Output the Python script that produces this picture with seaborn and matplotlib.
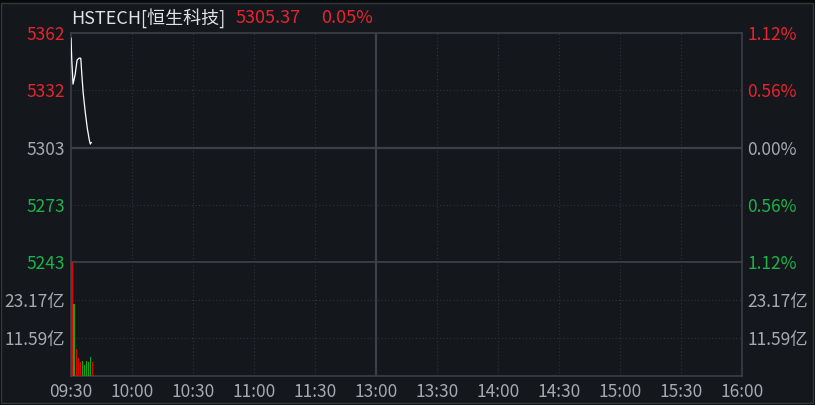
import matplotlib
matplotlib.use("Agg")
import matplotlib.pyplot as plt
from matplotlib.patches import Rectangle
import seaborn as sns

# intraday minutes since 09:30 (trading time, lunch break removed)
price_minutes = [0, 0.4, 1, 2, 3, 4, 4.8, 5.5, 6, 7, 8, 9, 9.5, 10]
prices = [5359.5, 5347.6, 5335.6, 5340.3, 5348.1, 5349.1, 5349.0, 5338.0,
          5331.0, 5321.1, 5312.8, 5306.6, 5304.5, 5305.37]

vol_minutes = [0, 1, 2, 3, 4, 5, 6, 7, 8, 9, 10]
volumes = [34.76, 21.95, 8.14, 5.4, 4.2, 4.6, 3.35, 4.6, 4.2, 5.7, 4.2]  # 亿
vol_dir = ["up", "down", "up", "up", "up", "down", "down", "down", "down", "down", "up"]

prev_close = 5302.72
last_price = 5305.37
last_pct = "0.05%"
pct_levels = [1.12, 0.56, 0.0, -0.56, -1.12]
price_labels = ["5362", "5332", "5303", "5273", "5243"]
pct_labels = ["1.12%", "0.56%", "0.00%", "0.56%", "1.12%"]
vol_ticks = [11.59, 23.17]
vol_labels = ["11.59亿", "23.17亿"]
vol_max = 34.76

time_ticks = [0, 30, 60, 90, 120, 150, 180, 210, 240, 270, 300, 330]
time_labels = ["09:30", "10:00", "10:30", "11:00", "11:30", "13:00",
               "13:30", "14:00", "14:30", "15:00", "15:30", "16:00"]

BG = "#14171c"
LINE = "#3c3f45"
GRID = "#3a3d43"
RED = "#e8242f"
GREEN = "#1cb34b"
GREY = "#a6aab0"
BAR_RED = "#e60000"
BAR_GREEN = "#0fa80f"
FS = 12.5
DOTS = (0.7, 2.4)

sns.set_theme(style="dark")
plt.rcParams["font.family"] = ["Noto Sans CJK SC", "DejaVu Sans"]
plt.rcParams["axes.unicode_minus"] = False

W, H = 815, 405
fig = plt.figure(figsize=(W / 100, H / 100), dpi=100)
fig.patch.set_facecolor("#08090b")
fig.patches.append(Rectangle((0.5 / W, 2.5 / H), 812.5 / W, 400 / H,
                             transform=fig.transFigure, facecolor=BG,
                             edgecolor="#34373c", linewidth=1, zorder=-5))

ax = fig.add_axes([71 / W, (H - 262) / H, 671 / W, 229 / H])
axv = fig.add_axes([71 / W, (H - 376) / H, 671 / W, 114 / H])

for a in (ax, axv):
    a.set_facecolor(BG)
    a.set_xlim(0, 330)
    for s in a.spines.values():
        s.set_color(LINE)
        s.set_linewidth(1.2)
    a.grid(False)
    for t in time_ticks[1:-1]:
        if t == 150:
            a.axvline(t, color=LINE, linewidth=1.6, zorder=1)
        else:
            a.axvline(t, color=GRID, linewidth=0.8, dashes=DOTS, zorder=1)

# price panel
lo = prev_close * (1 - 0.0112)
hi = prev_close * (1 + 0.0112)
ax.set_ylim(lo, hi)
levels = [prev_close * (1 + p / 100) for p in pct_levels]
for p, lv in zip(pct_levels, levels):
    if p == 0:
        ax.axhline(lv, color=LINE, linewidth=1.6, zorder=1)
    elif abs(p) < 1:
        ax.axhline(lv, color=GRID, linewidth=0.8, dashes=DOTS, zorder=1)

sns.lineplot(x=price_minutes, y=prices, ax=ax, color="white", linewidth=0.9,
             estimator=None, sort=False, zorder=3)

lab_colors = [RED, RED, GREY, GREEN, GREEN]
ax.set_xticks([])
ax.set_yticks(levels)
ax.set_yticklabels(price_labels)
ax.tick_params(axis="y", length=0, pad=4, labelsize=FS)
for tl, c in zip(ax.get_yticklabels(), lab_colors):
    tl.set_color(c)
ax.set_xlabel("")
ax.set_ylabel("")

ax2 = ax.twinx()
ax2.set_ylim(lo, hi)
ax2.set_yticks(levels)
ax2.set_yticklabels(pct_labels)
ax2.tick_params(axis="y", length=0, pad=4, labelsize=FS)
for tl, c in zip(ax2.get_yticklabels(), lab_colors):
    tl.set_color(c)
for s in ax2.spines.values():
    s.set_visible(False)
ax2.grid(False)

# volume panel
axv.set_ylim(0, vol_max)
for v in vol_ticks:
    axv.axhline(v, color=GRID, linewidth=0.8, dashes=DOTS, zorder=1)
bar_colors = [BAR_RED if d == "up" else BAR_GREEN for d in vol_dir]
axv.bar([m + 0.5 for m in vol_minutes], volumes, width=0.55, color=bar_colors,
        align="center", linewidth=0, antialiased=False, zorder=3)
axv.set_yticks(vol_ticks)
axv.set_yticklabels(vol_labels)
axv.tick_params(axis="y", length=0, pad=4, labelsize=FS, labelcolor=GREY)
axv.set_xticks(time_ticks)
axv.set_xticklabels(time_labels)
axv.tick_params(axis="x", length=0, pad=5, labelsize=FS, labelcolor=GREY)

axv2 = axv.twinx()
axv2.set_ylim(0, vol_max)
axv2.set_yticks(vol_ticks)
axv2.set_yticklabels(vol_labels)
axv2.tick_params(axis="y", length=0, pad=4, labelsize=FS, labelcolor=GREY)
for s in axv2.spines.values():
    s.set_visible(False)
axv2.grid(False)

# header
fig.text(71 / W, 1 - 18 / H, "HSTECH[恒生科技]", color="#dfe3e8", fontsize=13,
         va="center", ha="left")
fig.text(236 / W, 1 - 18 / H, f"{last_price:.2f}", color=RED, fontsize=13,
         va="center", ha="left")
fig.text(321 / W, 1 - 18 / H, last_pct, color=RED, fontsize=13,
         va="center", ha="left")

fig.savefig("out.png", dpi=100, facecolor=fig.get_facecolor())
